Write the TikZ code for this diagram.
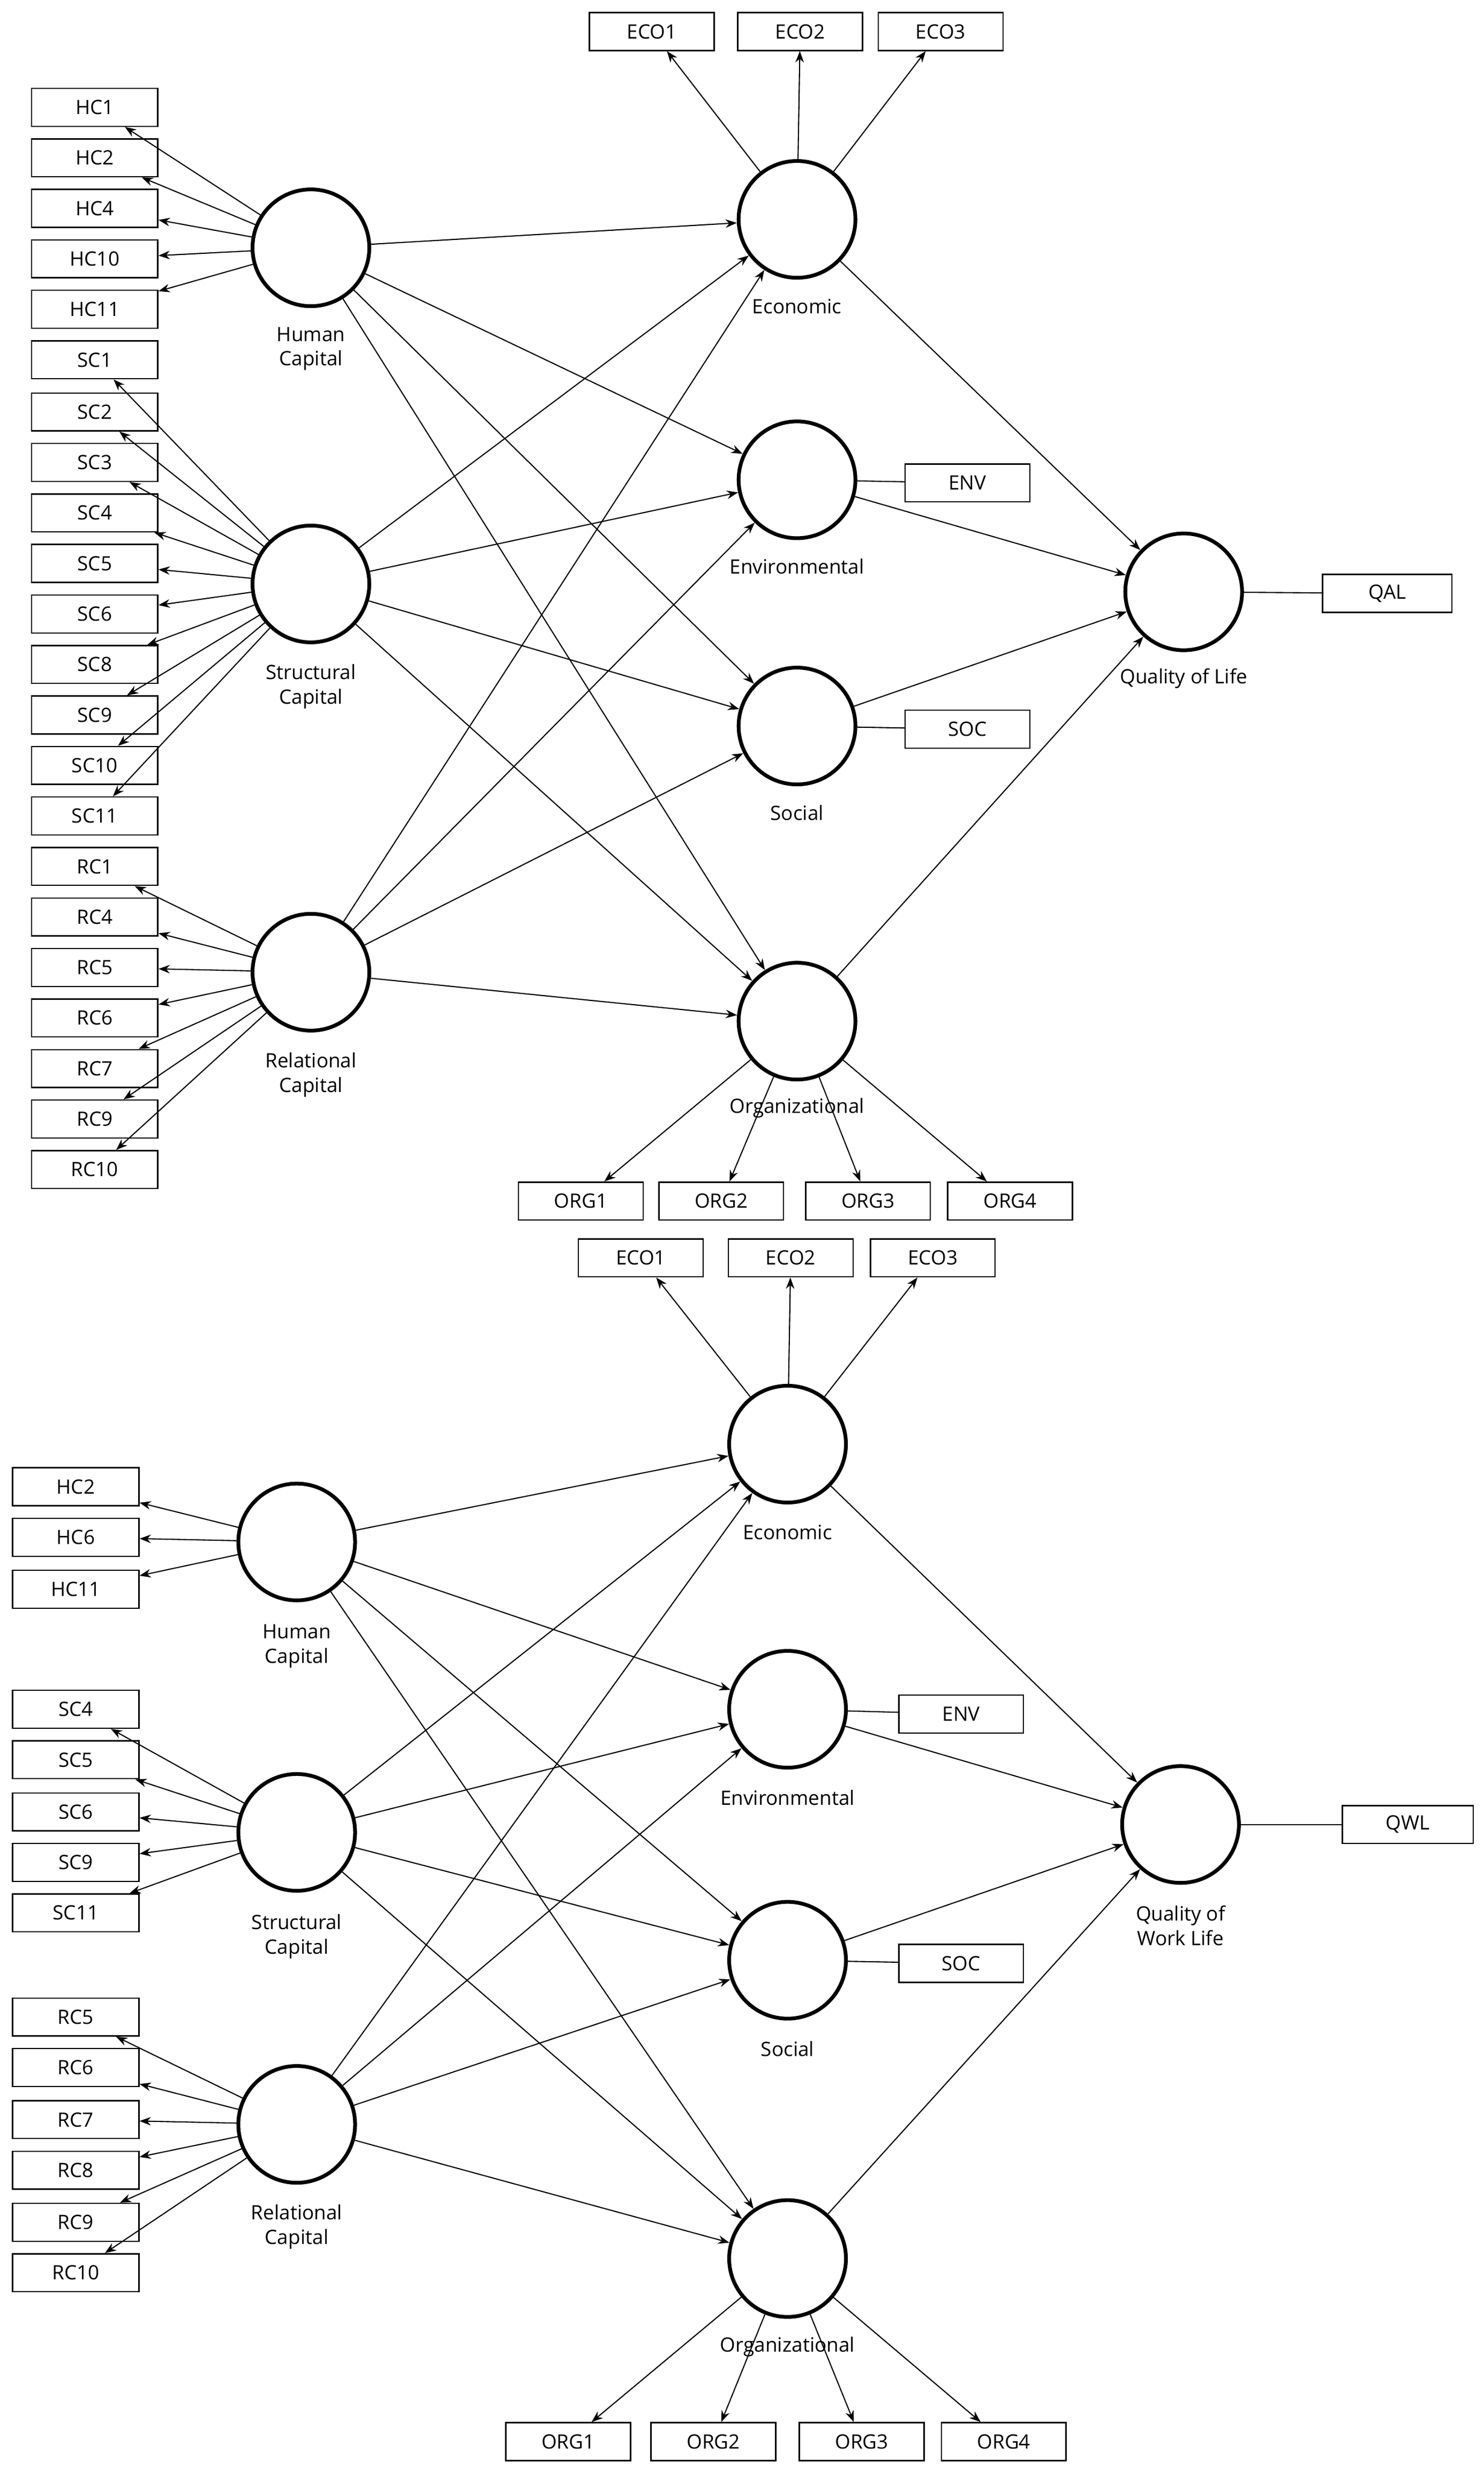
\documentclass[tikz,border=0pt]{standalone}
\usepackage{fontspec}
\setmainfont{Open Sans}
\usetikzlibrary{arrows.meta}
\begin{document}
\begin{tikzpicture}[x=0.02947cm,y=-0.02947cm,
  box/.style={draw,line width=0.7pt,minimum width=80*0.02947cm,minimum height=24*0.02947cm,inner sep=0pt,font=\fontsize{10.5}{12}\selectfont},
  lat/.style={draw,circle,line width=2pt,minimum size=74*0.02947cm,inner sep=0pt},
  lab/.style={align=center,font=\fontsize{10.5}{13}\selectfont},
  arr/.style={line width=0.6pt,-{Stealth[length=6pt,width=4.5pt]}},
  ln/.style={line width=0.6pt}]
\useasboundingbox (0,0) rectangle (940,1565);
% ===== top model =====
\node[lat] (hc) at (197,157) {}; \node[lab] at (197,221) {Human\\Capital};
\node[lat] (sc) at (197,370) {}; \node[lab] at (197,435) {Structural\\Capital};
\node[lat] (rc) at (197,616) {}; \node[lab] at (197,681) {Relational\\Capital};
\node[lat] (eco) at (505,139) {}; \node[lab] at (505,194) {Economic};
\node[lat] (env) at (505,304) {}; \node[lab] at (505,359) {Environmental};
\node[lat] (soc) at (505,460) {}; \node[lab] at (505,515) {Social};
\node[lat] (org) at (505,647) {}; \node[lab] at (505,702) {Organizational};
\node[lat] (qol) at (750,375) {}; \node[lab] at (750,430) {Quality of Life};
\foreach \n/\y in {HC1/68,HC2/100,HC4/132,HC10/164,HC11/196}{\node[box] (t\n) at (60,\y) {\n}; \draw[arr] (hc) -- (t\n);}
\foreach \n/\y in {SC1/228,SC2/261,SC3/293,SC4/325,SC5/357,SC6/389,SC8/421,SC9/453,SC10/485,SC11/517}{\node[box] (t\n) at (60,\y) {\n}; \draw[arr] (sc) -- (t\n);}
\foreach \n/\y in {RC1/549,RC4/581,RC5/613,RC6/645,RC7/677,RC9/709,RC10/741}{\node[box] (t\n) at (60,\y) {\n}; \draw[arr] (rc) -- (t\n);}
\foreach \n/\x in {ECO1/413,ECO2/507,ECO3/596}{\node[box,minimum width=79*0.02947cm] (t\n) at (\x,20) {\n}; \draw[arr] (eco) -- (t\n);}
\foreach \n/\x in {ORG1/368,ORG2/457,ORG3/550,ORG4/640}{\node[box,minimum width=79*0.02947cm] (t\n) at (\x,761) {\n}; \draw[arr] (org) -- (t\n);}
\node[box,minimum width=79*0.02947cm] (tENV) at (613,306) {ENV}; \draw[ln] (env) -- (tENV);
\node[box,minimum width=79*0.02947cm] (tSOC) at (613,462) {SOC}; \draw[ln] (soc) -- (tSOC);
\node[box,minimum width=82*0.02947cm] (tQAL) at (879,376) {QAL}; \draw[ln] (qol) -- (tQAL);
\foreach \a in {hc,sc,rc}{\foreach \b in {eco,env,soc,org}{\draw[arr] (\a) -- (\b);}}
\foreach \a in {eco,env,soc,org}{\draw[arr] (\a) -- (qol);}
% ===== bottom model =====
\node[lat] (bhc) at (188,977) {}; \node[lab] at (188,1043) {Human\\Capital};
\node[lat] (bsc) at (188,1161) {}; \node[lab] at (188,1227) {Structural\\Capital};
\node[lat] (brc) at (188,1346) {}; \node[lab] at (188,1411) {Relational\\Capital};
\node[lat] (beco) at (499,915) {}; \node[lab] at (499,971) {Economic};
\node[lat] (benv) at (499,1083) {}; \node[lab] at (499,1139) {Environmental};
\node[lat] (bsoc) at (499,1242) {}; \node[lab] at (499,1298) {Social};
\node[lat] (borg) at (499,1431) {}; \node[lab] at (499,1487) {Organizational};
\node[lat] (qwl) at (748,1156) {}; \node[lab] at (748,1220) {Quality of\\Work Life};
\foreach \n/\y in {HC2/942,HC6/974,HC11/1007}{\node[box] (b\n) at (48,\y) {\n}; \draw[arr] (bhc) -- (b\n);}
\foreach \n/\y in {SC4/1083,SC5/1115,SC6/1148,SC9/1180,SC11/1212}{\node[box] (b\n) at (48,\y) {\n}; \draw[arr] (bsc) -- (b\n);}
\foreach \n/\y in {RC5/1278,RC6/1310,RC7/1343,RC8/1375,RC9/1408,RC10/1440}{\node[box] (b\n) at (48,\y) {\n}; \draw[arr] (brc) -- (b\n);}
\foreach \n/\x in {ECO1/406,ECO2/501,ECO3/591}{\node[box,minimum width=79*0.02947cm] (b\n) at (\x,797) {\n}; \draw[arr] (beco) -- (b\n);}
\foreach \n/\x in {ORG1/360,ORG2/452,ORG3/546,ORG4/636}{\node[box,minimum width=79*0.02947cm] (b\n) at (\x,1547) {\n}; \draw[arr] (borg) -- (b\n);}
\node[box,minimum width=79*0.02947cm] (bENV) at (609,1086) {ENV}; \draw[ln] (benv) -- (bENV);
\node[box,minimum width=79*0.02947cm] (bSOC) at (609,1244) {SOC}; \draw[ln] (bsoc) -- (bSOC);
\node[box,minimum width=83*0.02947cm] (bQWL) at (892,1156) {QWL}; \draw[ln] (qwl) -- (bQWL);
\foreach \a in {bhc,bsc,brc}{\foreach \b in {beco,benv,bsoc,borg}{\draw[arr] (\a) -- (\b);}}
\foreach \a in {beco,benv,bsoc,borg}{\draw[arr] (\a) -- (qwl);}
\end{tikzpicture}
\end{document}
